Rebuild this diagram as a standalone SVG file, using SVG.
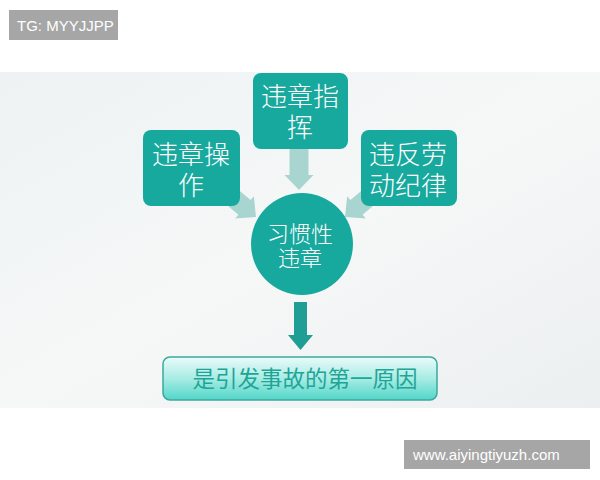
<svg xmlns="http://www.w3.org/2000/svg" width="600" height="480" viewBox="0 0 600 480">
<defs>
<linearGradient id="bg" x1="0" y1="0" x2="1" y2="1">
<stop offset="0" stop-color="#eef2f2"/>
<stop offset="0.5" stop-color="#f6f8f8"/>
<stop offset="1" stop-color="#eceff0"/>
</linearGradient>
<linearGradient id="bar" x1="0" y1="0" x2="0" y2="1">
<stop offset="0" stop-color="#eafbf9"/>
<stop offset="0.5" stop-color="#a8ece4"/>
<stop offset="1" stop-color="#52d6c8"/>
</linearGradient>
<polygon id="arr" points="-42,-9.5 -15,-9.5 -15,-14.5 0,0 -15,14.5 -15,9.5 -42,9.5"/>
</defs>
<style>
.box{fill:#18a99e}
.wt{fill:#ffffff;font-family:"Noto Sans CJK SC","Noto Sans",sans-serif;text-anchor:middle;font-weight:300}
.lt{fill:#a9d5d0}
.wm{fill:#a6a6a6}
.wmt{fill:#ffffff;font-family:"Liberation Sans",Arial,sans-serif;font-size:15px}
</style>
<rect x="0" y="0" width="600" height="480" fill="#ffffff"/>
<rect x="0" y="72" width="600" height="336" fill="url(#bg)"/>
<g id="connectors">
<use href="#arr" class="lt" transform="translate(299,190) rotate(90)"/>
<use href="#arr" class="lt" transform="translate(256,217) rotate(40)"/>
<use href="#arr" class="lt" transform="translate(345,217) rotate(140)"/>
<polygon points="294,302 307,302 307,335 313,335 300.5,350 288,335 294,335" fill="#1f9e95"/>
</g>
<g id="node-top">
<rect x="253" y="73" width="95" height="76" rx="8" class="box"/>
<text class="wt" font-size="26"><tspan x="300" y="106">违章指</tspan><tspan x="300" y="137">挥</tspan></text>
</g>
<g id="node-left">
<rect x="143" y="130" width="97" height="76" rx="8" class="box"/>
<text class="wt" font-size="26"><tspan x="191" y="164">违章操</tspan><tspan x="191" y="195">作</tspan></text>
</g>
<g id="node-right">
<rect x="361" y="130" width="96" height="76" rx="8" class="box"/>
<text class="wt" font-size="26"><tspan x="408" y="164">违反劳</tspan><tspan x="408" y="195">动纪律</tspan></text>
</g>
<g id="node-center">
<circle cx="302" cy="244" r="51" class="box"/>
<text class="wt" font-size="22"><tspan x="300" y="242">习惯性</tspan><tspan x="300" y="266">违章</tspan></text>
</g>
<g id="node-bottom">
<rect x="163" y="357" width="274" height="43" rx="7" fill="url(#bar)" stroke="#3aa99d" stroke-width="1.5"/>
<text font-family="Noto Sans CJK SC,Noto Sans,sans-serif" font-size="22.5" fill="#1fa598" text-anchor="middle" x="305" y="387">是引发事故的第一原因</text>
</g>
<g id="watermark-tl">
<rect x="9" y="10" width="109" height="30" class="wm"/>
<text class="wmt" x="17" y="30.5">TG: MYYJJPP</text>
</g>
<g id="watermark-br">
<rect x="404" y="440" width="186" height="29" class="wm"/>
<text class="wmt" x="413" y="460">www.aiyingtiyuzh.com</text>
</g>
</svg>
